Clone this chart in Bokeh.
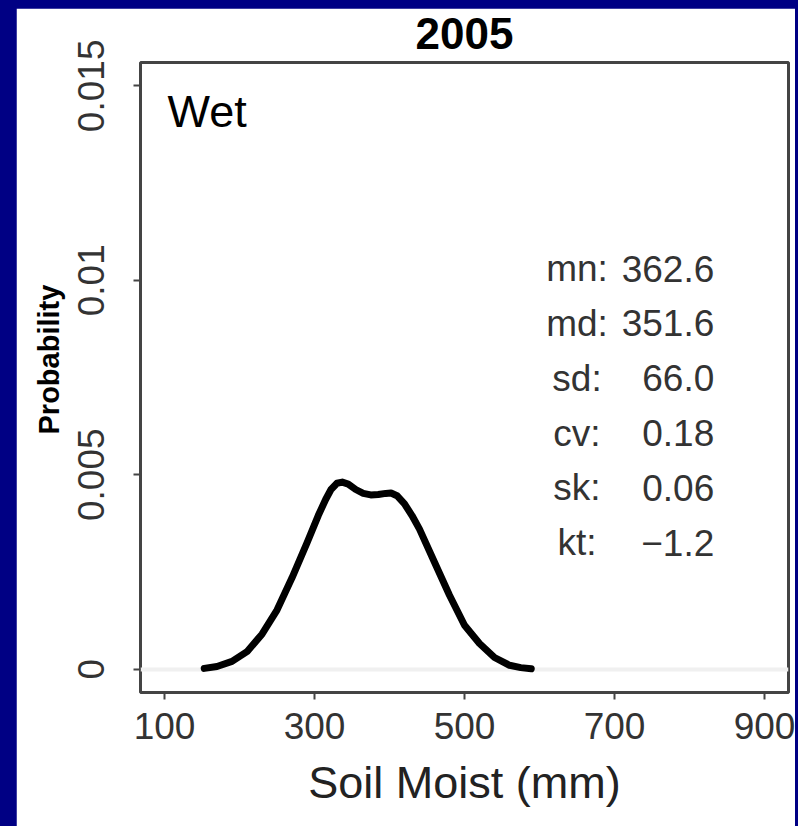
from bokeh.plotting import figure
from bokeh.models import FixedTicker, ColumnDataSource, Label, Title, LinearAxis
from bokeh.embed import file_html
from bokeh.resources import INLINE

# ---- data ----
soil_moist = [153, 170, 190, 210, 230, 250, 270, 290, 305, 315, 322, 330, 337, 345, 355,
              365, 375, 385, 395, 402, 410, 420, 430, 440, 460, 480, 500, 520, 540, 560, 575, 589]
probability = [0.00002, 0.00007, 0.00020, 0.00045, 0.00090, 0.00152, 0.00235, 0.00325,
               0.00395, 0.00437, 0.00462, 0.00478, 0.00481, 0.00476, 0.00462,
               0.00452, 0.00448, 0.00449, 0.00452, 0.00453, 0.00446, 0.00425, 0.00395,
               0.00360, 0.00275, 0.00190, 0.00113, 0.00066, 0.00030, 0.00010, 0.00004, 0.00001]

x_ticks = [100, 300, 500, 700, 900]
x_tick_labels = ["100", "300", "500", "700", "900"]
y_ticks = [0, 0.005, 0.01, 0.015]
y_tick_labels = ["0", "0.005", "0.01", "0.015"]

stat_names = ["mn:", "md:", "sd:", "cv:", "sk:", "kt:"]
stat_values = ["362.6", "351.6", "66.0", "0.18", "0.06", "\u22121.2"]

title_text = "2005"
panel_text = "Wet"
x_label = "Soil Moist (mm)"
y_label = "Probability"

FONT = "Liberation Sans"

p = figure(width=779, height=818, x_range=(68, 932), y_range=(-0.0006, 0.0156),
           output_backend="svg", toolbar_location=None,
           min_border_left=124, min_border_right=7, min_border_top=54, min_border_bottom=134,
           background_fill_color="white", border_fill_color="white")

p.outline_line_color = "#444444"
p.outline_line_width = 3

p.xgrid.visible = False
p.ygrid.ticker = FixedTicker(ticks=[0])
p.ygrid.grid_line_color = "#f0f0f0"
p.ygrid.grid_line_width = 4

for ax in (p.xaxis[0], p.yaxis[0]):
    ax.axis_line_color = None
    ax.major_tick_line_color = "#444444"
    ax.major_tick_line_width = 2
    ax.major_tick_out = 7
    ax.major_tick_in = 0
    ax.minor_tick_line_color = None
    ax.major_label_text_font = FONT
    ax.major_label_text_font_size = "37px"
    ax.major_label_text_color = "#333333"

p.xaxis.ticker = FixedTicker(ticks=x_ticks)
p.xaxis.major_label_overrides = {t: l for t, l in zip(x_ticks, x_tick_labels)}
p.xaxis.major_label_standoff = 13
p.xaxis.axis_label = x_label
p.xaxis.axis_label_text_font = FONT
p.xaxis.axis_label_text_font_size = "45px"
p.xaxis.axis_label_text_font_style = "normal"
p.xaxis.axis_label_text_color = "#222222"
p.xaxis.axis_label_standoff = 15

p.yaxis.ticker = FixedTicker(ticks=y_ticks)
p.yaxis.major_label_overrides = {t: l for t, l in zip(y_ticks, y_tick_labels)}
p.yaxis.major_label_orientation = "vertical"
p.yaxis.major_label_standoff = 29

# main title: label of a tick-less axis above the frame
top_axis = LinearAxis(ticker=FixedTicker(ticks=[]), axis_line_color=None,
                      major_tick_out=0, major_tick_in=0, minor_tick_out=0, minor_tick_in=0,
                      major_label_standoff=0, major_label_text_font_size="0px",
                      axis_label=title_text, axis_label_standoff=14,
                      axis_label_text_font=FONT, axis_label_text_font_size="44px",
                      axis_label_text_font_style="bold", axis_label_text_color="black")
p.add_layout(top_axis, "above")

# y axis title as a left-side title, placed a little above the frame centre
p.add_layout(Title(text=y_label, align="left", offset=258, standoff=22,
                   text_font=FONT, text_font_size="29px", text_font_style="bold",
                   text_color="black"), "left")

src = ColumnDataSource(data=dict(x=soil_moist, y=probability))
p.line("x", "y", source=src, line_width=7, line_color="black",
       line_cap="round", line_join="round")

p.add_layout(Label(x=104, y=0.01435, text=panel_text, text_align="left",
                   text_baseline="alphabetic", text_font=FONT,
                   text_font_size="45px", text_color="black"))

y0, dy = 0.0103, -0.00141
for i, (nm, val) in enumerate(zip(stat_names, stat_values)):
    yy = y0 + i * dy
    p.add_layout(Label(x=650, y=yy, text=nm, text_align="center",
                       text_baseline="alphabetic", text_font=FONT,
                       text_font_size="37px", text_color="#333333"))
    p.add_layout(Label(x=833, y=yy, text=val, text_align="right",
                       text_baseline="alphabetic", text_font=FONT,
                       text_font_size="37px", text_color="#333333"))

html = file_html(p, INLINE, title="2005")
html = html.replace("<head>", "<head><style>html,body{background:#000084;overflow:hidden;}"
                    "body{margin:8px 0 0 16px !important;padding:0;}</style>", 1)
open("out.html", "w").write(html)
